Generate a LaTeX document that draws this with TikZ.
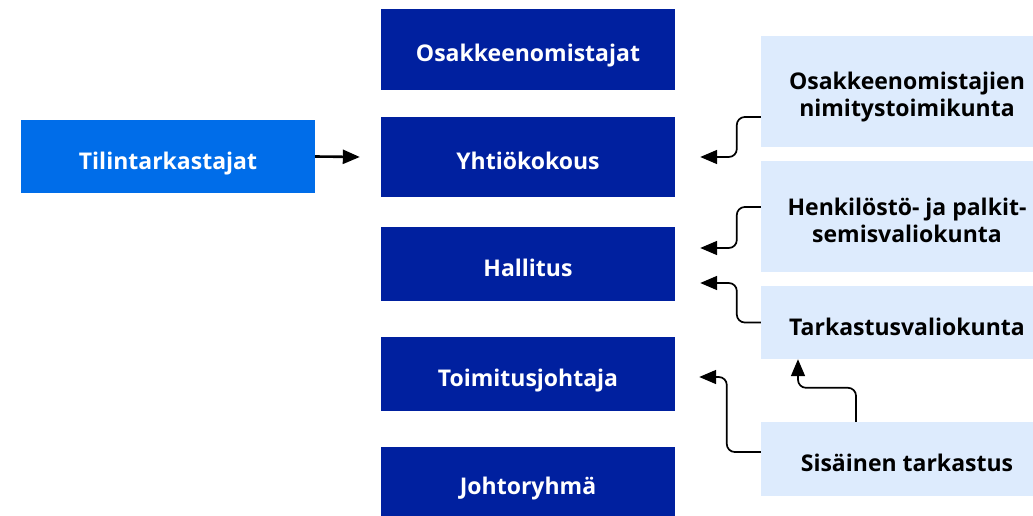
\documentclass[tikz,border=0pt]{standalone}
\usepackage{fontspec}
\setmainfont{Open Sans}
\usetikzlibrary{arrows.meta}

\definecolor{darkblue}{HTML}{00209F}
\definecolor{midblue}{HTML}{006DE9}
\definecolor{paleblue}{HTML}{DDEBFD}

\begin{document}
\begin{tikzpicture}[x=1pt,y=-1pt,font=\fontsize{23}{27}\selectfont\bfseries,
  organ/.style={fill=darkblue,text=white,minimum width=294pt,inner sep=0pt,text height=25pt,text depth=0pt},
  audit/.style={fill=midblue,text=white,minimum width=294pt,minimum height=73pt,inner sep=0pt,text height=25pt,text depth=0pt},
  board/.style={fill=paleblue,text=black,minimum width=292pt,inner sep=0pt,align=center,text depth=0pt},
  arr/.style={-{Triangle[length=17pt,width=14pt]},line width=1.7pt,rounded corners=8pt}]
  \useasboundingbox (0,0) rectangle (1033,516);

  \foreach \n/\y/\h/\t in {osake/49.5/81/Osakkeenomistajat, yhtio/157/80/Yhtiökokous,
    hallitus/264/74/Hallitus, toimitus/374/74/Toimitusjohtaja, johto/481.5/69/Johtoryhmä}
    \node[organ,minimum height=\h pt] (\n) at (528,\y) {\t};

  \node[audit] (tilin) at (168,156.5) {Tilintarkastajat};

  \node[board,minimum height=111pt,text height=51pt] (nimitys) at (907,91.5) {Osakkeenomistajien\\nimitystoimikunta};
  \node[board,minimum height=111pt,text height=51pt] (henk) at (907,216.5) {Henkilöstö- ja palkit-\\semisvaliokunta};
  \node[board,minimum height=73pt,text height=25pt] (tark) at (907,322.5) {Tarkastusvaliokunta};
  \node[board,minimum height=74pt,text height=25pt] (sis) at (907,459) {Sisäinen tarkastus};

  % arrows
  \draw[arr,line width=2.6pt] (tilin.east) -- ([xshift=-21pt]yhtio.west);
  \draw[arr] ([yshift=-25.5pt]nimitys.west) -- ++(-24,0) |- ([xshift=25pt]yhtio.east);
  \draw[arr] ([yshift=9.5pt]henk.west) -- ++(-24,0) |- ([xshift=25pt,yshift=16pt]hallitus.east);
  \draw[arr] (tark.west) -- ++(-24,0) |- ([xshift=25pt,yshift=-19pt]hallitus.east);
  \draw[arr] ([yshift=7pt]sis.west) -- ++(-34,0) |- ([xshift=24pt,yshift=-3pt]toimitus.east);
  \draw[arr] ([xshift=-51pt]sis.north) -- ++(0,-34) -| ([xshift=-109pt]tark.south);
\end{tikzpicture}
\end{document}
